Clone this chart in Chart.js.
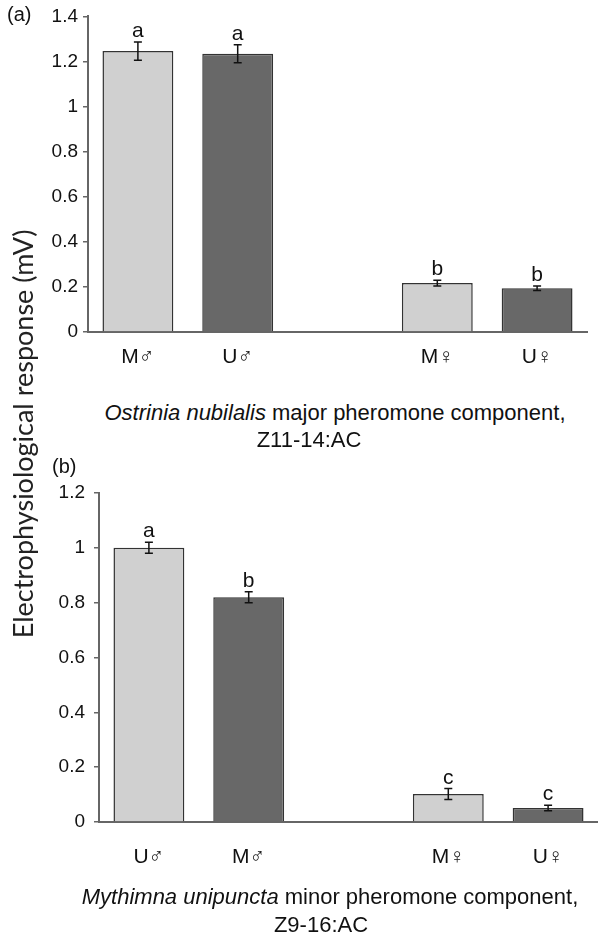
<html>

<head>
    <style>
        body { margin: 0; width: 598px; height: 935px; position: relative; background: #fff; overflow: hidden;
               font-family: "Liberation Sans", Arial, sans-serif; color: #111; }
        canvas { position: absolute; left: 0; }
        .txt { position: absolute; white-space: nowrap; font-size: 22px; line-height: 26px; }
        .c { transform: translateX(-50%); }
        .ytitle { position: absolute; left: 22px; top: 434px; font-family: Lato, "Open Sans", sans-serif;
                  font-size: 27px; white-space: nowrap; transform: translate(-50%, -50%) rotate(-90deg); color: #222; }
    </style>
</head>

<body>
    <!-- panel (a) -->
    <canvas id="chartA" width="598" height="390" style="top:0px"></canvas>
    <!-- panel (b) -->
    <canvas id="chartB" width="598" height="495" style="top:440px"></canvas>

    <div class="txt" style="left:7px; top:1px; font-size:20px">(a)</div>
    <div class="txt c" style="left:335px; top:400px"><i>Ostrinia nubilalis</i> major pheromone component,</div>
    <div class="txt c" style="left:309px; top:427px">Z11-14:AC</div>

    <div class="txt" style="left:52px; top:453px; font-size:20px">(b)</div>
    <div class="txt c" style="left:330px; top:884px"><i>Mythimna unipuncta</i> minor pheromone component,</div>
    <div class="txt c" style="left:321px; top:912px">Z9-16:AC</div>

    <div class="ytitle">Electrophysiological response (mV)</div>

    <script src="https://cdn.jsdelivr.net/npm/chart.js"></script>
    <script>
        // 데이터
        // (a) Ostrinia nubilalis, Z11-14:AC
        const labelsA = ['M♂', 'U♂', '', 'M♀', 'U♀'];
        const valuesA = [1.246, 1.234, null, 0.217, 0.194];
        const errA    = [0.040, 0.040, null, 0.013, 0.010];
        const lettersA = ['a', 'a', '', 'b', 'b'];
        const yTicksA = [0, 0.2, 0.4, 0.6, 0.8, 1, 1.2, 1.4];
        const yTickLabelsA = ['0', '0.2', '0.4', '0.6', '0.8', '1', '1.2', '1.4'];

        // (b) Mythimna unipuncta, Z9-16:AC
        const labelsB = ['U♂', 'M♂', '', 'M♀', 'U♀'];
        const valuesB = [1.0, 0.82, null, 0.102, 0.051];
        const errB    = [0.020, 0.020, null, 0.020, 0.010];
        const lettersB = ['a', 'b', '', 'c', 'c'];
        const yTicksB = [0, 0.2, 0.4, 0.6, 0.8, 1, 1.2];
        const yTickLabelsB = ['0', '0.2', '0.4', '0.6', '0.8', '1', '1.2'];

        const barColors = ['#d0d0d0', '#686868', '#ffffff', '#d0d0d0', '#686868'];

        // 에러바 + 유의성 문자 그리기
        const errorBarPlugin = {
            id: 'errorBars',
            afterDatasetsDraw(chart, args, opts) {
                const ctx = chart.ctx;
                const y = chart.scales.y;
                const meta = chart.getDatasetMeta(0);
                const vals = chart.data.datasets[0].data;
                ctx.save();
                vals.forEach((v, i) => {
                    if (v === null) return;
                    const e = opts.err[i];
                    const x = meta.data[i].x;
                    const top = y.getPixelForValue(v + e);
                    const bot = y.getPixelForValue(v - e);
                    ctx.strokeStyle = '#111';
                    ctx.lineWidth = 1.5;
                    ctx.beginPath();
                    ctx.moveTo(x, top); ctx.lineTo(x, bot);
                    ctx.moveTo(x - 4, top); ctx.lineTo(x + 4, top);
                    ctx.moveTo(x - 4, bot); ctx.lineTo(x + 4, bot);
                    ctx.stroke();
                    ctx.fillStyle = '#111';
                    ctx.font = '21px "Liberation Sans", Arial, sans-serif';
                    ctx.textAlign = 'center';
                    ctx.textBaseline = 'alphabetic';
                    ctx.fillText(opts.letters[i], x, top - 5);
                });
                ctx.restore();
            }
        };

        function makeChart(canvasId, labels, values, err, letters, yTicks, yTickLabels, yMax, pad, yWidth, xHeight, tickPad, yPad) {
            return new Chart(document.getElementById(canvasId), {
                type: 'bar',
                data: {
                    labels: labels,
                    datasets: [{
                        data: values,
                        backgroundColor: barColors,
                        borderColor: '#333',
                        borderWidth: 1.5,
                        barPercentage: 0.71,
                        categoryPercentage: 1.0
                    }]
                },
                plugins: [errorBarPlugin],
                options: {
                    responsive: false,
                    animation: false,
                    layout: { padding: pad },
                    plugins: {
                        legend: { display: false },
                        tooltip: { enabled: false },
                        errorBars: { err: err, letters: letters }
                    },
                    scales: {
                        x: {
                            grid: { display: false, drawTicks: false },
                            border: { display: true, color: '#666', width: 2 },
                            ticks: { color: '#111', padding: tickPad, font: { size: 21, family: '"Liberation Sans", Arial, sans-serif' } },
                            afterFit(s) { s.height = xHeight; }
                        },
                        y: {
                            min: 0,
                            max: yMax,
                            afterBuildTicks(s) { s.ticks = yTicks.map(v => ({ value: v })); },
                            grid: { drawOnChartArea: false, drawTicks: true, tickLength: 5, color: '#666', lineWidth: 1.5 },
                            border: { display: true, color: '#666', width: 2 },
                            ticks: {
                                color: '#111', padding: yPad,
                                font: { size: 19, family: '"Liberation Sans", Arial, sans-serif' },
                                callback: (v, i) => yTickLabels[i]
                            },
                            afterFit(s) { s.width = yWidth; }
                        }
                    }
                }
            });
        }

        makeChart('chartA', labelsA, valuesA, errA, lettersA, yTicksA, yTickLabelsA, 1.4,
            { top: 15, right: 11, left: 0, bottom: 0 }, 88, 58, 13, 5);
        makeChart('chartB', labelsB, valuesB, errB, lettersB, yTicksB, yTickLabelsB, 1.2,
            { top: 53, right: 0, left: 0, bottom: 0 }, 99, 113, 23, 9);
    </script>
</body>

</html>
